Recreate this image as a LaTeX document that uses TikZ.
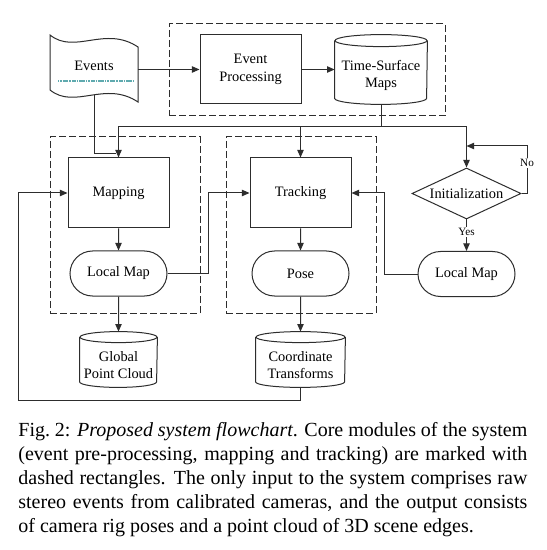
\documentclass[tikz,border=0pt]{standalone}
\usepackage{fontspec}
\setmainfont{Liberation Serif}
\usetikzlibrary{arrows.meta,shapes.geometric,shapes.misc,calc}
\newcommand\dfont{\fontsize{7.2}{8.7}\selectfont}
\newcommand\sfont{\fontsize{5.6}{6.5}\selectfont}
\definecolor{lc}{RGB}{45,45,45}
\definecolor{tealband}{RGB}{95,170,175}
% cylinder outline around a node: #1 name, #2 x radius (pt), #3 y radius in px
\newcommand\drawcyl[3]{%
  \draw[lw] ($(#1.north west)+(0,-#3)$) -- ($(#1.south west)+(0,-#3)$)
    arc[start angle=180,end angle=360,x radius=#2,y radius=#3*0.5pt]
    -- ($(#1.north east)+(0,-#3)$);
  \draw[lw] ($(#1.north)+(0,-#3)$) ellipse[x radius=#2,y radius=#3*0.5pt];
  \coordinate (#1top) at ($(#1.north)+(0,-2*#3)$);
}
\begin{document}
\begin{tikzpicture}[x=0.5pt,y=-0.5pt,
  lw/.style={draw=lc,line width=0.5pt},
  base/.style={lw,font=\dfont,align=center,inner sep=1pt},
  procbox/.style={base,rectangle,minimum width=50.5pt,minimum height=35pt},
  stadium/.style={base,rounded rectangle,minimum width=50.5pt,minimum height=22.5pt},
  decision/.style={base,diamond,aspect=2.1,inner sep=0pt,minimum width=54.5pt,minimum height=25.5pt},
  cylnode/.style={font=\dfont,align=center,inner sep=0pt},
  dbox/.style={draw=lc,line width=0.5pt,dash pattern=on 3.5pt off 1.5pt,rectangle,inner sep=0pt},
  arr/.style={lw,-{Triangle[length=3.8pt,width=3.2pt]}},
  lbl/.style={font=\sfont,fill=white,inner sep=0.5pt},
]
\useasboundingbox (0,0) rectangle (546,550);
\fill[white] (0,0) rectangle (546,550);

% dashed groups
\node[dbox,minimum width=138pt,minimum height=46pt] (gpre) at (307,70) {};
\node[dbox,minimum width=75pt,minimum height=88pt] (gmap) at (125,225) {};
\node[dbox,minimum width=75pt,minimum height=88pt] (gtrk) at (301,225) {};

% Events (punched tape)
\draw[lw] (50,35) .. controls (75,55) and (105,25) .. (138,47)
  -- (138,102) .. controls (105,80) and (75,110) .. (50,90) -- cycle;
\draw[tealband,line width=1.2pt,dash pattern=on 0.5pt off 0.5pt on 1pt off 0.3pt on 2pt off 0.4pt] (58,81) -- (134,81);
\node[font=\dfont,inner sep=0pt,minimum width=44pt,minimum height=29pt] (ev) at (94,66) {Events};

% processing
\node[procbox,minimum height=34.5pt] (ep) at (250.5,69.5) {Event\\Processing};
\node[cylnode,minimum width=46pt,minimum height=28.5pt] (tsm) at (381,75.5) {Time-Surface\\Maps};
\drawcyl{tsm}{23pt}{6}

% mapping
\node[procbox] (map) at (118.5,193) {Mapping};
\node[stadium] (lm1) at (118.5,273.5) {Local Map};
\node[cylnode,minimum width=38.5pt,minimum height=22pt] (gpc) at (118.5,365) {Global\\Point Cloud};
\drawcyl{gpc}{19.25pt}{5.5}

% tracking
\node[procbox] (trk) at (300.5,193) {Tracking};
\node[stadium] (pose) at (300.5,273.5) {Pose};
\node[cylnode,minimum width=44.5pt,minimum height=22pt] (ct) at (300.5,365) {Coordinate\\Transforms};
\drawcyl{ct}{22.25pt}{5.5}

% initialization
\node[decision] (init) at (466.5,193.5) {Initialization};
\node[stadium] (lm2) at (466.5,274) {Local Map};

% connectors
\draw[arr] (ev.east |- ep.west) -- (ep.west);
\draw[arr] (ep.east) -- (ep.east -| tsm.west);
\coordinate (bus) at (381,127);
\draw[arr] (tsm.south) -- (bus) -| (map.north);
\draw[arr] (bus) -| (trk.north);
\draw[arr] (bus) -| (init.north);
\coordinate (evj) at (116,154);
\draw[lw] (ev.south) |- (evj);

\draw[arr] (map) -- (lm1);
\draw[arr] (lm1) -- (gpctop);
\draw[arr] (lm1.east) -| ($(lm1.east)!.5!(trk.west)$) |- (trk.west);

\draw[arr] (trk) -- (pose);
\draw[arr] (pose) -- (cttop);
\coordinate (loopc) at (18,400);
\draw[arr] (ct.south) |- (loopc) |- (map.west);

\draw[arr] (lm2.west) -| ($(lm2.west)!.5!(trk.east)$) |- (trk.east);
\draw[arr] (init.south) -- node[lbl,pos=0.4]{Yes} (lm2.north);
\coordinate (noc) at (527,146);
\draw[arr] (init.east) -| node[lbl,pos=0.82]{No} (noc) -- (init.north |- noc);

% caption
\node[anchor=north west,inner sep=0pt,text width=254.5pt,align=justify,
  font=\fontsize{10}{12}\selectfont] (cap) at (18,422)
 {Fig.~2: \textit{Proposed system flowchart}. Core modules of the system (event pre-processing, mapping and tracking) are marked with dashed rectangles. The only input to the system comprises raw stereo events from calibrated cameras, and the output consists\linebreak of camera rig poses and a point cloud of 3D scene edges.};
\end{tikzpicture}
\end{document}
